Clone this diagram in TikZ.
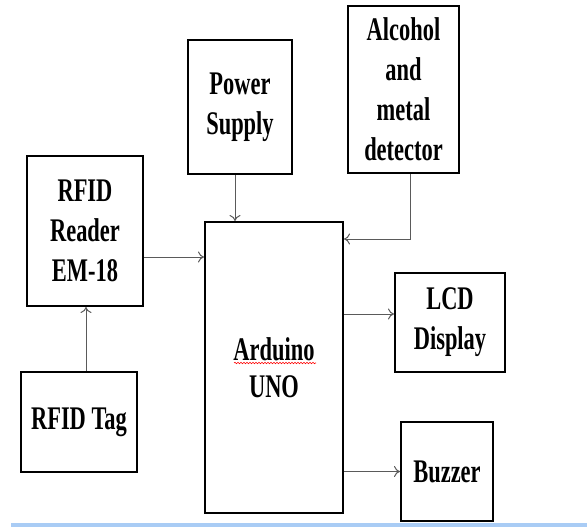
\documentclass[tikz,border=0pt]{standalone}
\usepackage{fontspec}
\setmainfont[FakeStretch=0.68]{Liberation Serif}
\usetikzlibrary{arrows.meta,decorations.pathmorphing}
\definecolor{arrgray}{HTML}{5A5A5A}
\definecolor{bandblue}{HTML}{A9CCF5}
\begin{document}
\begin{tikzpicture}[x=1pt,y=-1pt,
  blk/.style={draw=black,line width=2pt,fill=white,inner sep=0pt,align=center,
    font=\fontsize{33}{40}\selectfont\bfseries},
  arr/.style={draw=arrgray,line width=1pt,-{To[length=6pt,width=11pt]}}]
\useasboundingbox (0,0) rectangle (587,527);
\fill[bandblue] (11,523) rectangle (587,527);
\node[blk,minimum width=116pt,minimum height=150pt] (reader) at (85,231) {RFID\\Reader\\EM-18};
\node[blk,minimum width=116pt,minimum height=100pt] (tag) at (79,422) {RFID Tag};
\node[blk,minimum width=138pt,minimum height=291pt,font=\fontsize{33}{37}\selectfont\bfseries] (ard) at (274,367.5) {Arduino\\UNO};
\node[blk,minimum width=104pt,minimum height=134pt] (power) at (240,107) {Power\\Supply};
\node[blk,minimum width=111pt,minimum height=167pt] (alc) at (403.5,89.5) {Alcohol\\and\\metal\\detector};
\node[blk,minimum width=110pt,minimum height=99pt] (lcd) at (450,322.5) {LCD\\Display};
\node[blk,minimum width=92pt,minimum height=99pt] (buz) at (447,471.5) {Buzzer};
\coordinate (pw) at ([xshift=-5pt]power.south);
\coordinate (al) at ([xshift=6.5pt]alc.south);
\coordinate (ain) at ([yshift=-18pt]ard.north east);
\coordinate (rd) at ([yshift=-26pt]reader.east);
\coordinate (tg) at ([xshift=7pt]tag.north);
\coordinate (lc) at ([yshift=8.5pt]lcd.west);
\draw[arr] (pw) -- (pw |- ard.north);
\draw[arr] (al) |- (ain);
\draw[arr] (rd) -- (rd -| ard.west);
\draw[arr] (tg) -- (tg |- reader.south);
\draw[arr] (ard.east |- lc) -- (lc);
\draw[arr] (ard.east |- buz.west) -- (buz.west);
\draw[red,line width=0.6pt,decorate,decoration={snake,amplitude=0.7pt,segment length=3pt}] (234,363) -- (316,363);
\end{tikzpicture}
\end{document}
